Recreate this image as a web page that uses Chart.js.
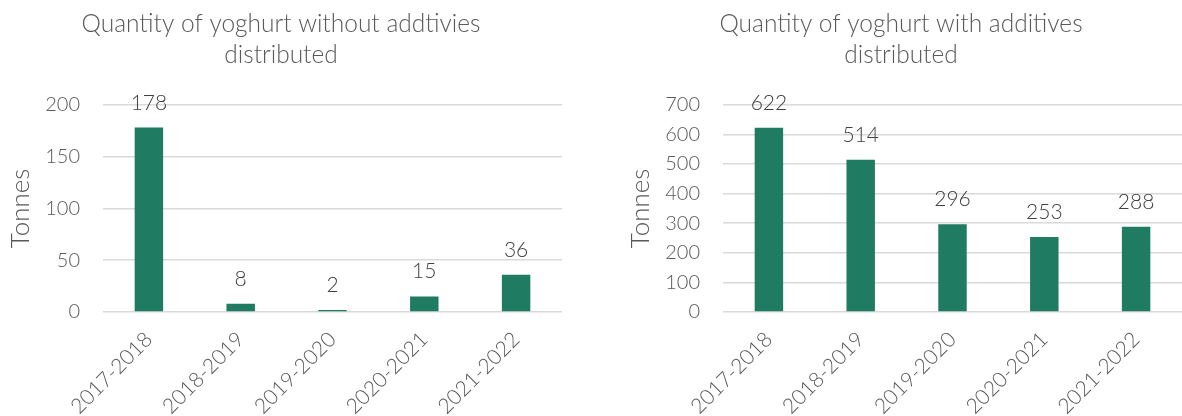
<!DOCTYPE html>
<html>
<head>
<meta charset="utf-8">
<script src="https://cdn.jsdelivr.net/npm/chart.js@4"></script>
<style>
  html, body { margin: 0; padding: 0; background: #ffffff; }
  body { width: 1182px; height: 416px; position: relative; overflow: hidden; }
  .box { position: absolute; top: 0; width: 562px; height: 416px; }
  #leftBox { left: 0; }
  #rightBox { left: 620px; }
</style>
</head>
<body>
<div class="box" id="leftBox"><canvas id="leftChart" width="562" height="416"></canvas></div>
<div class="box" id="rightBox"><canvas id="rightChart" width="562" height="416"></canvas></div>
<script>
const categories = ['2017-2018', '2018-2019', '2019-2020', '2020-2021', '2021-2022'];
const withoutAdditives = [178, 8, 2, 15, 36];
const withAdditives = [622, 514, 296, 253, 288];
const leftTitle = ['Quantity of yoghurt without addtivies', 'distributed'];
const rightTitle = ['Quantity of yoghurt with additives', 'distributed'];
const yAxisTitle = 'Tonnes';
const leftTicks = { max: 200, step: 50 };
const rightTicks = { max: 700, step: 100 };

const FONT = 'Lato, "Open Sans", sans-serif';
const BAR = '#1F7B61';
const GRID = '#D9D9D9';
const TEXT = '#595959';
const LABEL = '#404040';

const valueLabels = {
  id: 'valueLabels',
  afterDatasetsDraw(chart) {
    const ctx = chart.ctx;
    ctx.save();
    ctx.font = '300 21px ' + FONT;
    ctx.fillStyle = LABEL;
    ctx.textAlign = 'center';
    ctx.textBaseline = 'alphabetic';
    chart.data.datasets.forEach((ds, i) => {
      chart.getDatasetMeta(i).data.forEach((bar, j) => {
        ctx.fillText(String(ds.data[j]), bar.x, bar.y - 18);
      });
    });
    ctx.restore();
  }
};

function makeChart(id, values, title, ticks) {
  return new Chart(document.getElementById(id), {
    type: 'bar',
    data: {
      labels: categories,
      datasets: [{
        data: values,
        backgroundColor: BAR,
        borderWidth: 0,
        barPercentage: 0.31,
        categoryPercentage: 1.0
      }]
    },
    options: {
      responsive: false,
      animation: false,
      layout: { padding: { top: 0, right: 0, bottom: 0, left: 0 } },
      plugins: {
        legend: { display: false },
        tooltip: { enabled: false },
        title: {
          display: true,
          text: title,
          color: TEXT,
          font: { family: FONT, size: 24.5, weight: '300', lineHeight: 1.28 },
          padding: { top: 8, bottom: 34 }
        }
      },
      scales: {
        x: {
          grid: { display: false, drawTicks: false },
          border: { display: false },
          ticks: {
            color: TEXT,
            font: { family: FONT, size: 21, weight: '300' },
            maxRotation: 45,
            minRotation: 45,
            padding: 15,
            autoSkip: false
          },
          afterFit(s) { s.height = 104; }
        },
        y: {
          min: 0,
          max: ticks.max,
          grid: { color: GRID, lineWidth: 1.5, drawTicks: false },
          border: { display: false },
          ticks: {
            stepSize: ticks.step,
            color: TEXT,
            font: { family: FONT, size: 20, weight: '300' },
            padding: 23
          },
          title: {
            display: true,
            text: yAxisTitle,
            color: TEXT,
            font: { family: FONT, size: 26, weight: '300', lineHeight: 1.2 },
            padding: { top: 5, bottom: 0 }
          },
          afterFit(s) { s.width = 103; }
        }
      }
    },
    plugins: [valueLabels]
  });
}

makeChart('leftChart', withoutAdditives, leftTitle, leftTicks);
makeChart('rightChart', withAdditives, rightTitle, rightTicks);
</script>
</body>
</html>
